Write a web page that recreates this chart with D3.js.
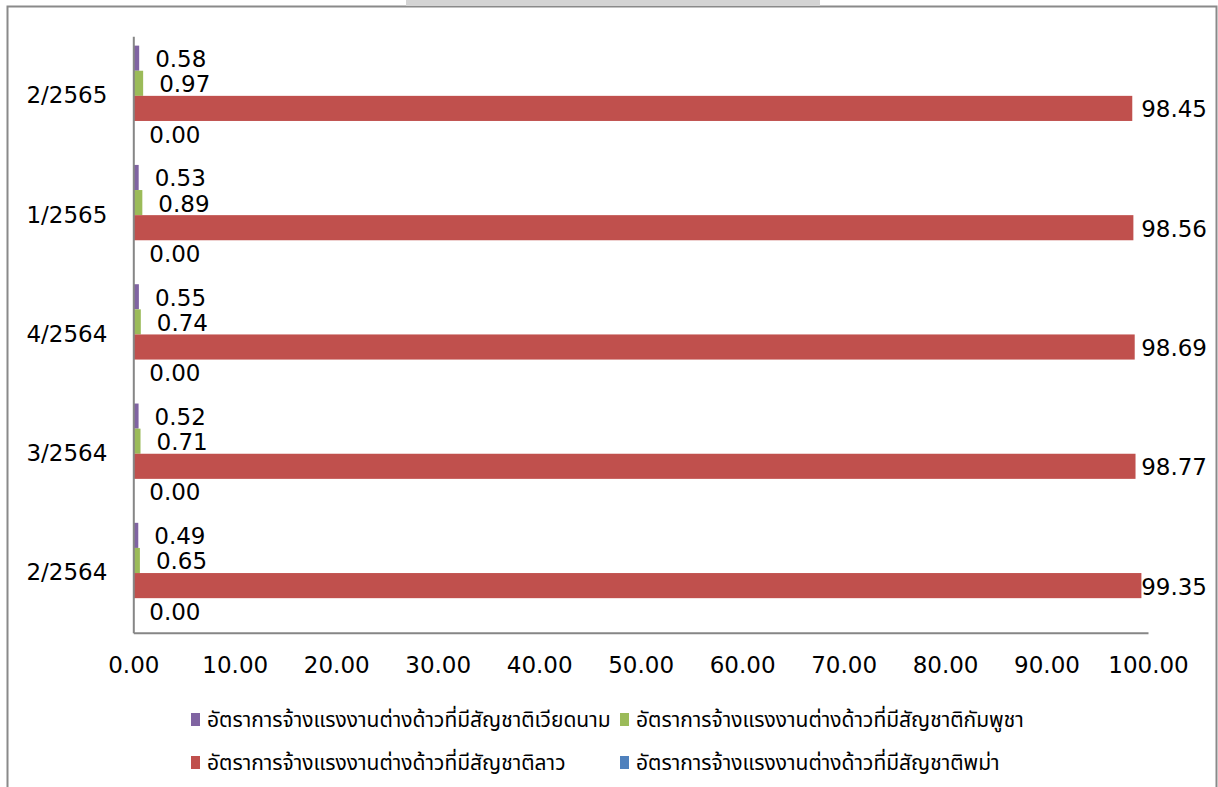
<!DOCTYPE html>
<html>
<head>
<meta charset="utf-8">
<script src="https://cdn.jsdelivr.net/npm/d3@7"></script>
<style>
  html, body { margin: 0; padding: 0; background: #fff; }
  svg { display: block; }
  .num { font-family: "DejaVu Sans", sans-serif; font-size: 23px; fill: #000; }
  .leg { font-family: "Tahoma", "Noto Sans Thai", "Noto Sans", "DejaVu Sans", sans-serif; font-size: 21px; fill: #000; }
</style>
</head>
<body>
<svg id="chart" width="1218" height="787"></svg>
<script>
// ---- data ----
const categories = ["2/2564", "3/2564", "4/2564", "1/2565", "2/2565"];
const seriesNames = [
  "อัตราการจ้างแรงงานต่างด้าวที่มีสัญชาติเวียดนาม",
  "อัตราการจ้างแรงงานต่างด้าวที่มีสัญชาติกัมพูชา",
  "อัตราการจ้างแรงงานต่างด้าวที่มีสัญชาติลาว",
  "อัตราการจ้างแรงงานต่างด้าวที่มีสัญชาติพม่า"
];
const vietnam  = [0.49, 0.52, 0.55, 0.53, 0.58];
const cambodia = [0.65, 0.71, 0.74, 0.89, 0.97];
const laos     = [99.35, 98.77, 98.69, 98.56, 98.45];
const myanmar  = [0.00, 0.00, 0.00, 0.00, 0.00];
const xTicks = [0, 10, 20, 30, 40, 50, 60, 70, 80, 90, 100];
const colors = ["#8064A2", "#9BBB59", "#C0504D", "#4F81BD"];

const seriesValues = [vietnam, cambodia, laos, myanmar];

const svg = d3.select("#chart");

// outer frame
svg.append("path")
  .attr("d", "M7.5,787 V6.5 H1216.5 V787")
  .attr("fill", "none").attr("stroke", "#8a8a8a").attr("stroke-width", 2);
// clipped title box at top
svg.append("rect").attr("x", 406).attr("y", -2).attr("width", 414).attr("height", 8)
  .attr("fill", "#d4d4d4");

const plot = { left: 133.3, right: 1148, top: 36.2, bottom: 632.7 };
const labelMaxRight = 1207;

const x = d3.scaleLinear().domain([0, 100]).range([plot.left, plot.right]);
const y = d3.scaleBand().domain(categories.slice().reverse())
  .range([plot.top, plot.bottom]).paddingInner(0.158).paddingOuter(0.079);
const yInner = d3.scaleBand().domain(d3.range(seriesNames.length))
  .range([0, y.bandwidth()]);

// bars
const rows = [];
categories.forEach((c, ci) => {
  seriesValues.forEach((arr, si) => rows.push({ c, si, v: arr[ci] }));
});

svg.append("g").selectAll("rect").data(rows).join("rect")
  .attr("x", x(0))
  .attr("y", d => y(d.c) + yInner(d.si))
  .attr("width", d => x(d.v) - x(0))
  .attr("height", yInner.bandwidth())
  .attr("fill", d => colors[d.si]);

// value labels
svg.append("g").selectAll("text").data(rows).join("text")
  .attr("class", "num")
  .attr("y", d => y(d.c) + yInner(d.si) + yInner.bandwidth() / 2 + 1)
  .attr("dominant-baseline", "central")
  .text(d => d.v.toFixed(2))
  .each(function (d) {
    const w = this.getComputedTextLength();
    const left = x(d.v) + (d.v > 50 ? 12 : 16);
    d3.select(this).attr("x", Math.min(left, labelMaxRight - w));
  });

// axes
const xAxis = d3.axisBottom(x).tickValues(xTicks).tickSize(0).tickPadding(24)
  .tickFormat(d => d.toFixed(2));
const gx = svg.append("g").attr("transform", `translate(0,${plot.bottom})`).call(xAxis);
gx.select(".domain").attr("stroke", "#868686").attr("stroke-width", 2);
gx.selectAll("text").attr("class", "num").attr("font-size", null).attr("font-family", null).attr("dy", "0.71em");

const yAxis = d3.axisLeft(y).tickSize(0).tickPadding(26);
const gy = svg.append("g").attr("transform", `translate(${plot.left},0)`).call(yAxis);
gy.select(".domain").attr("stroke", "#868686").attr("stroke-width", 2);
gy.selectAll("text").attr("class", "num").attr("font-size", null).attr("font-family", null);

// legend
const legendPos = [
  { x: 191, y: 720 }, { x: 620, y: 720 },
  { x: 191, y: 763 }, { x: 620, y: 763 }
];
const lg = svg.append("g").selectAll("g").data(seriesNames).join("g")
  .attr("transform", (d, i) => `translate(${legendPos[i].x},${legendPos[i].y})`);
lg.append("rect").attr("x", 0).attr("y", -7).attr("width", 9).attr("height", 13)
  .attr("fill", (d, i) => colors[i]);
lg.append("text").attr("class", "leg").attr("x", 16).attr("y", 0)
  .attr("dominant-baseline", "central").text(d => d);
</script>
</body>
</html>
